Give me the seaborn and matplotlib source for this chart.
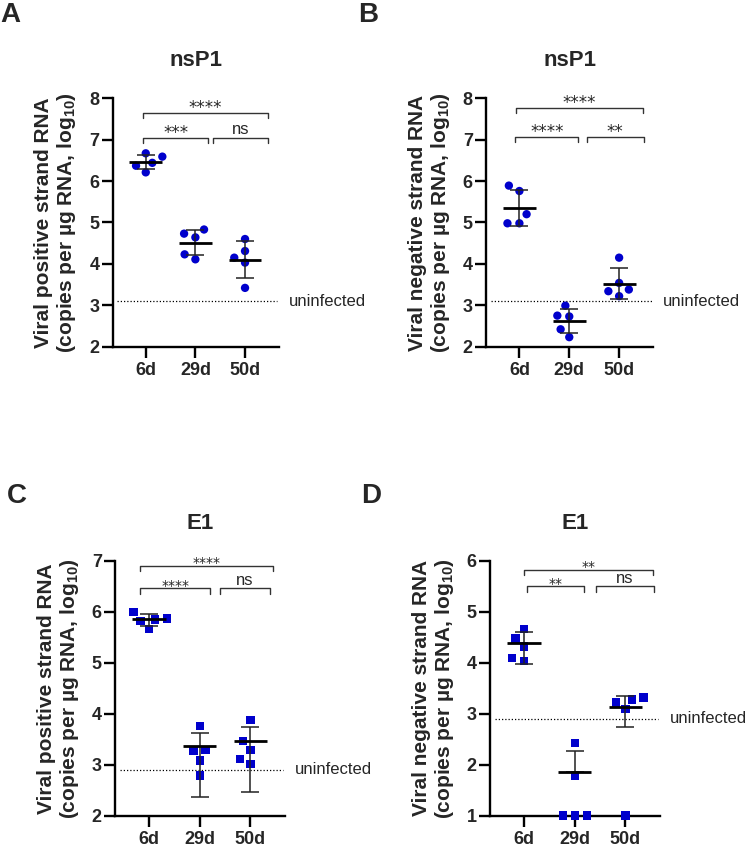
import numpy as np
import pandas as pd
import matplotlib
matplotlib.use("Agg")
import matplotlib.pyplot as plt
import seaborn as sns

# ---------------- data ----------------
days = ["6d", "29d", "50d"]

A_6d = [6.67, 6.59, 6.44, 6.37, 6.21]
A_29d = [4.83, 4.73, 4.64, 4.23, 4.11]
A_50d = [4.60, 4.31, 4.15, 4.03, 3.42]
A_mean = [6.46, 4.51, 4.10]
A_lo = [6.28, 4.21, 3.66]
A_hi = [6.64, 4.83, 4.55]

B_6d = [5.89, 5.76, 5.20, 4.98, 4.98]
B_29d = [2.99, 2.75, 2.73, 2.42, 2.23]
B_50d = [4.15, 3.54, 3.38, 3.34, 3.22]
B_mean = [5.36, 2.62, 3.52]
B_lo = [4.91, 2.32, 3.15]
B_hi = [5.79, 2.91, 3.89]

C_6d = [6.00, 5.87, 5.85, 5.82, 5.66]
C_29d = [3.76, 3.29, 3.27, 3.08, 2.79]
C_50d = [3.88, 3.46, 3.29, 3.11, 3.01]
C_mean = [5.86, 3.36, 3.46]
C_lo = [5.72, 2.37, 2.47]
C_hi = [5.96, 3.63, 3.75]

D_6d = [4.66, 4.48, 4.32, 4.09, 4.04]
D_29d = [2.42, 1.79, 1.00, 1.00, 1.00]
D_50d = [3.32, 3.28, 3.22, 3.09, 1.00]
D_mean = [4.39, 1.86, 3.14]
D_lo = [3.97, 1.86, 2.75]
D_hi = [4.60, 2.26, 3.34]

uninfected = [3.1, 3.1, 2.9, 2.9]
titles = ["nsP1", "nsP1", "E1", "E1"]
panel_letters = ["A", "B", "C", "D"]
ylabels = ["Viral positive strand RNA", "Viral negative strand RNA",
           "Viral positive strand RNA", "Viral negative strand RNA"]
ylabel2 = "(copies per µg RNA, log$_{\\mathbf{10}}$)"

# significance brackets: (x_start, x_end, y, label)
A_sig = [(-0.06, 2.47, 7.65, "****"), (-0.06, 1.26, 7.05, "***"), (1.36, 2.47, 7.05, "ns")]
B_sig = [(-0.06, 2.47, 7.77, "****"), (-0.08, 1.18, 7.07, "****"), (1.35, 2.49, 7.07, "**")]
C_sig = [(-0.18, 2.45, 6.91, "****"), (-0.18, 1.21, 6.46, "****"), (1.40, 2.39, 6.46, "ns")]
D_sig = [(0.01, 2.54, 5.82, "**"), (0.05, 1.19, 5.50, "**"), (1.42, 2.56, 5.50, "ns")]

# ---------------- style ----------------
sns.set_style("ticks")
plt.rcParams["font.family"] = ["Liberation Sans", "DejaVu Sans"]
plt.rcParams["mathtext.fontset"] = "custom"
plt.rcParams["mathtext.rm"] = "Liberation Sans"
plt.rcParams["mathtext.bf"] = "Liberation Sans:bold"

BLUE = "#0000CC"

fig = plt.figure(figsize=(7.5, 8.47), dpi=100)
rects = [[0.150, 0.5907, 0.2217, 0.2933],
         [0.648, 0.5907, 0.2227, 0.2933],
         [0.1533, 0.0370, 0.2267, 0.3007],
         [0.6533, 0.0370, 0.2267, 0.3007]]

panels = [
    (A_6d, A_29d, A_50d, A_mean, A_lo, A_hi, A_sig, (2, 8), "o"),
    (B_6d, B_29d, B_50d, B_mean, B_lo, B_hi, B_sig, (2, 8), "o"),
    (C_6d, C_29d, C_50d, C_mean, C_lo, C_hi, C_sig, (2, 7), "s"),
    (D_6d, D_29d, D_50d, D_mean, D_lo, D_hi, D_sig, (1, 6), "s"),
]
star_sizes = [12, 12, 10, 10]
letter_pos = [(0.0, 0.974), (0.477, 0.974), (0.009, 0.4061), (0.481, 0.4061)]

for i, (g1, g2, g3, mean, lo, hi, sig, ylim, mk) in enumerate(panels):
    ax = fig.add_axes(rects[i])
    df = pd.DataFrame({"day": ["6d"] * len(g1) + ["29d"] * len(g2) + ["50d"] * len(g3),
                       "value": g1 + g2 + g3})
    # invisible edge widens the swarm spacing without enlarging the markers
    sns.swarmplot(data=df, x="day", y="value", order=days, ax=ax, color=BLUE,
                  marker=mk, size=6.0, linewidth=2.2, edgecolor="none", zorder=3)
    for c in ax.collections:
        c.set_clip_on(False)
    xs = np.arange(len(days))
    mean = np.array(mean)
    yerr = [mean - np.array(lo), np.array(hi) - mean]
    ax.errorbar(xs, mean, yerr=yerr, fmt="none", ecolor="#222222", elinewidth=1.1,
                capsize=6.5, capthick=1.1, zorder=4)
    ax.hlines(mean, xs - 0.33, xs + 0.33, color="black", lw=2.0, zorder=5)

    # uninfected line
    ax.plot([-0.57, 2.65], [uninfected[i]] * 2, color="black", lw=0.9,
            ls=(0, (1, 1.6)), zorder=1, clip_on=False)
    ax.text(2.88, uninfected[i], "uninfected", fontsize=12, va="center", ha="left",
            clip_on=False)

    # brackets
    span = ylim[1] - ylim[0]
    d = 0.02 * span
    for (x1, x2, y, lab) in sig:
        ax.plot([x1, x1, x2, x2], [y - d, y, y, y - d], color="#333333", lw=1.0,
                clip_on=False)
        if lab == "ns":
            ax.annotate(lab, ((x1 + x2) / 2, y), xytext=(0, 0.5), textcoords="offset points",
                        ha="center", va="bottom", fontsize=12)
        else:
            ax.annotate(lab, ((x1 + x2) / 2, y), xytext=(0, -3), textcoords="offset points",
                        ha="center", va="bottom", fontsize=star_sizes[i],
                        family="DejaVu Sans")

    ax.set_xlim(-0.67, 2.68)
    ax.set_ylim(*ylim)
    ax.set_yticks(range(ylim[0], ylim[1] + 1))
    ax.set_xlabel("")
    ax.set_ylabel(ylabels[i] + "\n" + ylabel2, fontsize=15, fontweight="bold",
                  labelpad=8, linespacing=1.1)
    ax.set_title(titles[i], fontsize=16, fontweight="bold", pad=23)
    sns.despine(ax=ax)
    for s in ["left", "bottom"]:
        ax.spines[s].set_linewidth(1.7)
        ax.spines[s].set_color("black")
    ax.tick_params(axis="both", length=8, width=1.7, color="black", labelsize=13)
    ax.tick_params(axis="y", pad=1.5)
    ax.tick_params(axis="x", pad=3)
    for lab in ax.get_xticklabels() + ax.get_yticklabels():
        lab.set_fontweight("bold")

    fig.text(letter_pos[i][0], letter_pos[i][1], panel_letters[i], fontsize=20,
             fontweight="bold", va="baseline", ha="left")

fig.savefig("out.png", dpi=100)
